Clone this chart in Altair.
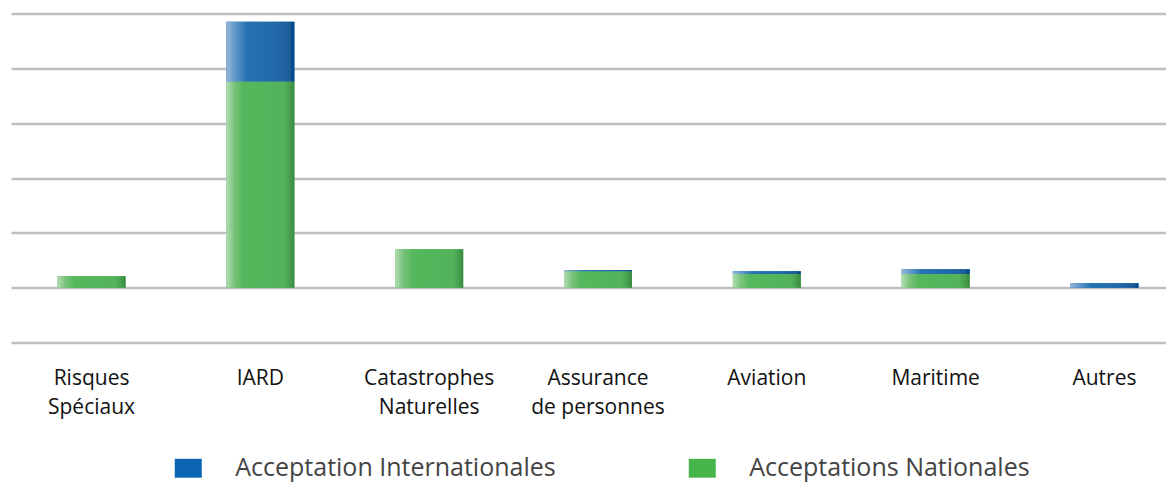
import altair as alt
import pandas as pd

categories = ["Risques\nSpéciaux", "IARD", "Catastrophes\nNaturelles", "Assurance\nde personnes",
              "Aviation", "Maritime", "Autres"]
nationales = [0.21, 3.76, 0.70, 0.30, 0.25, 0.25, 0.0]
internationales = [0.0, 1.09, 0.0, 0.02, 0.05, 0.085, 0.08]
series_names = ["Acceptation Internationales", "Acceptations Nationales"]
series_colors = ["#0A63B3", "#45B54C"]

rows = []
for c, n, i in zip(categories, nationales, internationales):
    rows.append({"cat": c, "series": series_names[1], "value": n, "ord": 0})
    rows.append({"cat": c, "series": series_names[0], "value": i, "ord": 1})
df = pd.DataFrame(rows)

green_grad = alt.LinearGradient(
    gradient="linear", x1=0, x2=1, y1=0, y2=0,
    stops=[alt.GradientStop(color="#B3DCB2", offset=0),
           alt.GradientStop(color="#78C37B", offset=0.12),
           alt.GradientStop(color="#55B85C", offset=0.25),
           alt.GradientStop(color="#52B35A", offset=0.85),
           alt.GradientStop(color="#46A04D", offset=0.93),
           alt.GradientStop(color="#3A8A41", offset=1)])
blue_grad = alt.LinearGradient(
    gradient="linear", x1=0, x2=1, y1=0, y2=0,
    stops=[alt.GradientStop(color="#93B8DA", offset=0),
           alt.GradientStop(color="#5B93C6", offset=0.15),
           alt.GradientStop(color="#2672B2", offset=0.3),
           alt.GradientStop(color="#2169A8", offset=0.75),
           alt.GradientStop(color="#1B5A94", offset=0.95),
           alt.GradientStop(color="#004A8E", offset=0.96),
           alt.GradientStop(color="#004A8E", offset=1)])

x_enc = alt.X("cat:N", sort=categories,
              scale=alt.Scale(paddingInner=0.597, paddingOuter=0.2755, range=[2, 1176]),
              axis=alt.Axis(title=None, domain=False, ticks=False, tickSize=0, labelAngle=0,
                            labelFont="Open Sans", labelFontSize=21, labelColor="#111111",
                            labelLineHeight=29, labelPadding=25, labelBaseline="top",
                            labelExpr="split(datum.label, '\\n')", labelLimit=0))
y_scale = alt.Scale(domain=[-1, 5], nice=False, zero=False)
y_axis = alt.Axis(title=None, labels=False, ticks=False, domain=False, grid=True,
                  values=[-1, 0, 1, 2, 3, 4, 5], gridColor="#BEBEC3", gridWidth=2.5)

base = alt.Chart(df).transform_stack(
    stack="value", as_=["y0", "y1"], groupby=["cat"], sort=[alt.SortField("ord")])

legend_layer = base.mark_bar().encode(
    x=x_enc,
    y=alt.Y("y0:Q", scale=y_scale, axis=y_axis),
    y2="y1:Q",
    color=alt.Color("series:N",
                    scale=alt.Scale(domain=series_names, range=series_colors),
                    legend=alt.Legend(orient="none", legendX=165.75, legendY=441,
                                      direction="horizontal", title=None,
                                      symbolType="M-1,-0.7H1V0.7H-1Z", symbolSize=729,
                                      symbolStrokeWidth=0, symbolOpacity=1,
                                      labelFont="Open Sans", labelFontSize=25,
                                      labelColor="#444444", labelOffset=33.5,
                                      columnPadding=133, padding=0, labelLimit=0)),
)

green_layer = base.transform_filter(alt.datum.series == series_names[1]).mark_bar(
    color=green_grad).encode(x=x_enc, y=alt.Y("y0:Q", scale=y_scale, axis=y_axis), y2="y1:Q")
blue_layer = base.transform_filter(alt.datum.series == series_names[0]).mark_bar(
    color=blue_grad).encode(x=x_enc, y=alt.Y("y0:Q", scale=y_scale, axis=y_axis), y2="y1:Q")

chart = alt.layer(legend_layer, green_layer, blue_layer).properties(
    width=1157, height=329,
    autosize=alt.AutoSizeParams(type="none"),
    padding={"left": 1, "top": 5.5, "right": 0, "bottom": 140.5},
    background="white",
).configure_view(stroke=None)

chart.save("out.html", embed_options={"renderer": "svg", "actions": False})
